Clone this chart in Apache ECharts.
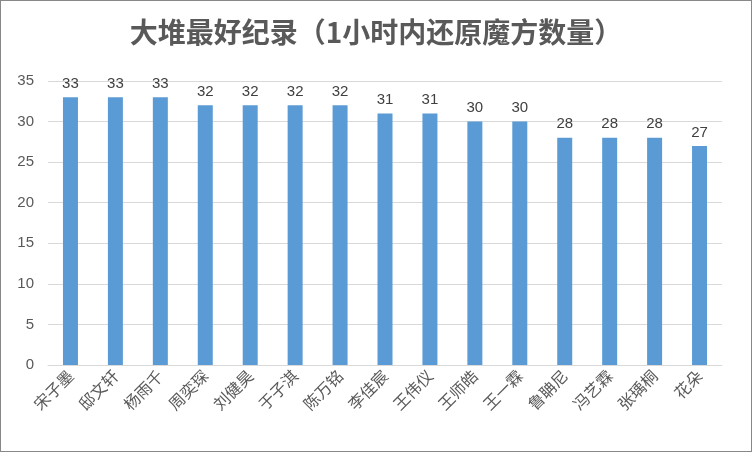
<!DOCTYPE html><html><head><meta charset="utf-8">
<script src="https://cdn.jsdelivr.net/npm/echarts@6/dist/echarts.min.js"></script>
<style>body{margin:0}#c{width:752px;height:452px;box-sizing:border-box;border:1px solid #888}</style></head><body><div id="c"></div>
<script>
const categories=["宋子墨","邸文轩","杨雨千","周奕琛","刘健昊","于子淇","陈万铭","李佳宸","王伟仪","王师皓","王一霖","鲁聃尼","冯艺霖","张瑀桐","花朵"];
const values=[33,33,33,32,32,32,32,31,31,30,30,28,28,28,27];
const title="大堆最好纪录（1小时内还原魔方数量）";
const ch=echarts.init(document.getElementById('c'));
ch.setOption({
 title:{text:title,left:'center',top:12,textStyle:{fontFamily:'Noto Sans CJK SC',fontSize:28,fontWeight:'bold',color:'#595959'}},
 grid:{left:47,right:29,top:80,bottom:86},
 xAxis:{type:'category',data:categories,axisTick:{show:false},axisLine:{lineStyle:{color:'#d9d9d9'}},
  axisLabel:{rotate:45,fontSize:16,color:'#595959',fontFamily:'Noto Sans CJK SC',margin:8}},
 yAxis:{type:'value',min:0,max:35,interval:5,axisLabel:{fontSize:15,color:'#595959',margin:14},splitLine:{lineStyle:{color:'#d9d9d9'}}},
 series:[{type:'bar',data:values,barWidth:15,itemStyle:{color:'#5b9bd5'},
  label:{show:true,position:'top',fontSize:15,color:'#404040',distance:6}}]
});
</script></body></html>
